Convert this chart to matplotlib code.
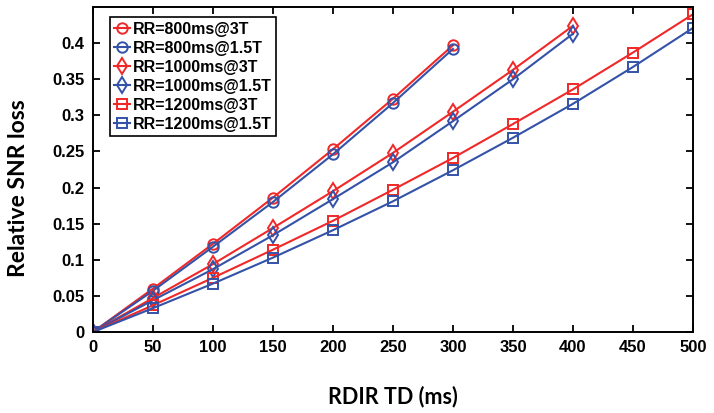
import matplotlib
matplotlib.use("Agg")
import matplotlib.pyplot as plt

td = [0, 50, 100, 150, 200, 250, 300, 350, 400, 450, 500]
rr800_3T = [0, 0.060, 0.122, 0.186, 0.253, 0.323, 0.397]
rr800_15T = [0, 0.057, 0.118, 0.180, 0.246, 0.317, 0.392]
rr1000_3T = [0, 0.047, 0.094, 0.144, 0.195, 0.248, 0.305, 0.363, 0.424]
rr1000_15T = [0, 0.044, 0.087, 0.134, 0.184, 0.235, 0.292, 0.350, 0.413]
rr1200_3T = [0, 0.037, 0.075, 0.114, 0.154, 0.197, 0.241, 0.288, 0.336, 0.387, 0.440]
rr1200_15T = [0, 0.033, 0.067, 0.103, 0.141, 0.181, 0.224, 0.269, 0.316, 0.367, 0.421]
labels = ["RR=800ms@3T", "RR=800ms@1.5T", "RR=1000ms@3T", "RR=1000ms@1.5T",
          "RR=1200ms@3T", "RR=1200ms@1.5T"]

red = "#f02828"
blue = "#3352a8"

fig = plt.figure(figsize=(7.14, 4.13), dpi=100)
ax = fig.add_axes([0.130, 0.196, 0.8406, 0.787])

series = [(rr800_3T, red, "o"), (rr800_15T, blue, "o"),
          (rr1000_3T, red, "d"), (rr1000_15T, blue, "d"),
          (rr1200_3T, red, "s"), (rr1200_15T, blue, "s")]
for (vals, c, m), lab in zip(series, labels):
    ms = {"o": 7.5, "d": 8, "s": 6.5}[m]
    ax.plot(td[:len(vals)], vals, color=c, marker=m, markerfacecolor="none",
            markeredgecolor=c, markersize=ms, markeredgewidth=1.4, linewidth=1.5, label=lab)

ax.set_xlim(0, 500)
ax.set_ylim(0, 0.45)
ax.set_xticks(td)
ax.set_yticks([0, 0.05, 0.1, 0.15, 0.2, 0.25, 0.3, 0.35, 0.4])
ax.set_yticklabels(["0", "0.05", "0.1", "0.15", "0.2", "0.25", "0.3", "0.35", "0.4"])
ax.tick_params(direction="in", top=True, right=True, length=5, width=1.3,
               labelsize=12, pad=6)
for lbl in ax.get_xticklabels() + ax.get_yticklabels():
    lbl.set_fontweight("bold")
    lbl.set_family("Liberation Sans")
for s in ax.spines.values():
    s.set_linewidth(1.4)

ax.set_xlabel("RDIR TD (ms)", fontsize=15.5, fontweight="bold", family="Lato", labelpad=22)
ax.set_ylabel("Relative SNR loss", fontsize=16.5, fontweight="bold", family="Lato")
ax.yaxis.set_label_coords(-0.106, 0.443)

leg = ax.legend(loc="upper left", bbox_to_anchor=(0.028, 0.97), fancybox=False,
                framealpha=1, edgecolor="black", handlelength=1.0, handletextpad=0.15,
                labelspacing=0.25, borderpad=0.3, borderaxespad=0,
                prop={"family": "Liberation Sans", "weight": "bold", "size": 11.5})
leg.get_frame().set_linewidth(1.2)

fig.savefig("out.png", dpi=100)
